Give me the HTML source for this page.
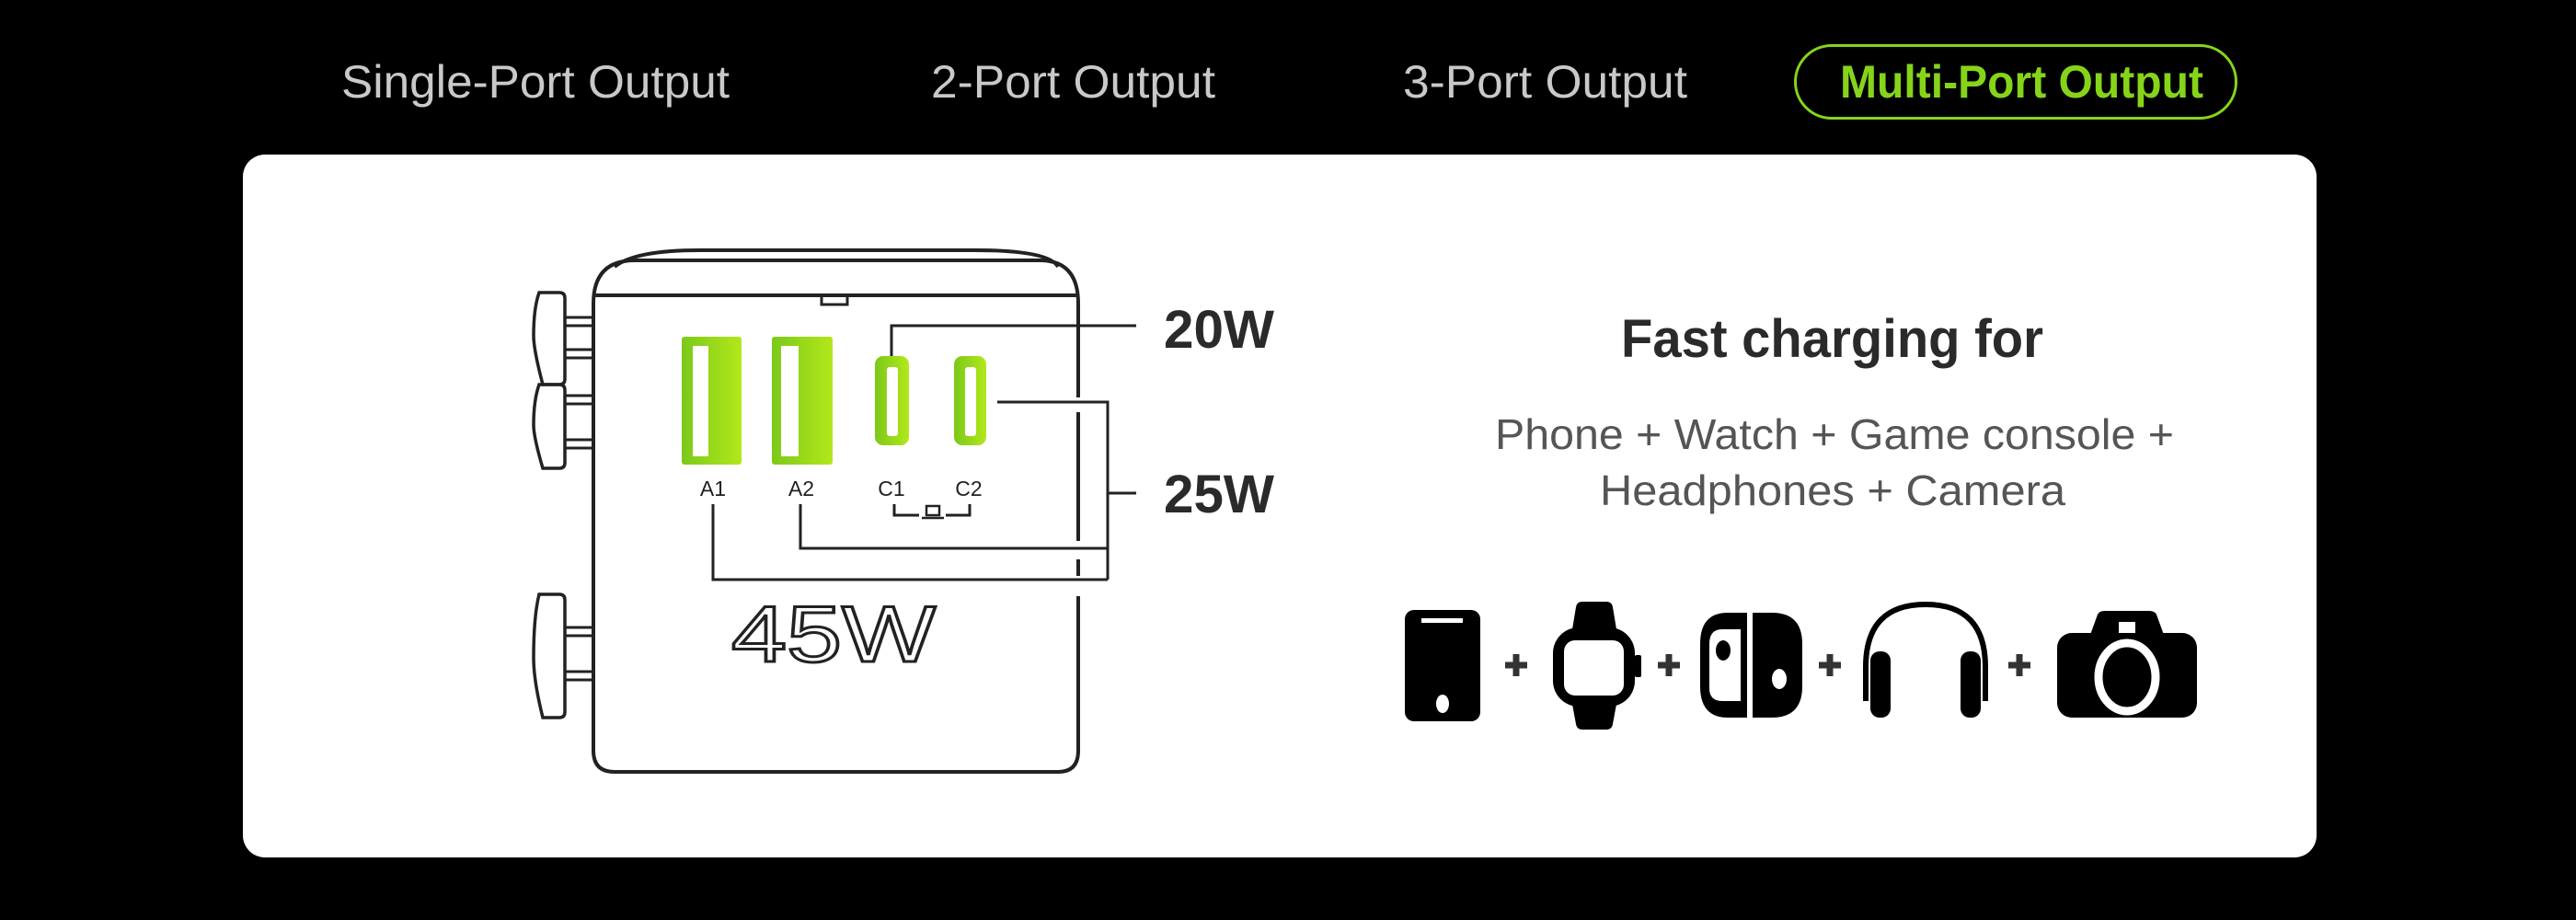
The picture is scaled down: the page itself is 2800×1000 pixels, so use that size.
<!DOCTYPE html>
<html><head><meta charset="utf-8"><style>
html,body{margin:0;padding:0;background:#000;}
svg{display:block}
</style></head><body>
<svg width="2800" height="1000" viewBox="0 0 2800 1000" xmlns="http://www.w3.org/2000/svg">
<rect width="2800" height="1000" fill="#000"/>
<g font-family="Liberation Sans, sans-serif" font-size="50" fill="#c9c9c9">
<text x="371" y="106" textLength="422" lengthAdjust="spacingAndGlyphs">Single-Port Output</text>
<text x="1012" y="106" textLength="309" lengthAdjust="spacingAndGlyphs">2-Port Output</text>
<text x="1525" y="106" textLength="309" lengthAdjust="spacingAndGlyphs">3-Port Output</text>
</g>
<rect x="1951.5" y="49.5" width="479" height="79" rx="39.5" fill="none" stroke="#86d41a" stroke-width="3"/>
<text x="2000" y="106" font-family="Liberation Sans, sans-serif" font-weight="bold" font-size="50" fill="#86d41a" textLength="395" lengthAdjust="spacingAndGlyphs">Multi-Port Output</text>
<rect x="264" y="168" width="2254" height="764" rx="24" fill="#fff"/>
<defs>
<linearGradient id="g" x1="0" x2="1" y1="0" y2="0"><stop offset="0" stop-color="#7cc81a"/><stop offset="1" stop-color="#b2e81a"/></linearGradient>
</defs>
<g stroke="#222" stroke-width="4" fill="none">
<path d="M668 290 Q690 272 760 272 L1060 272 Q1140 272 1150 290"/>
<path d="M1172 340 L1172 330 Q1172 283 1130 283 L690 283 Q645 283 645 330 L645 816 Q645 839 668 839 L1150 839 Q1172 839 1172 816 L1172 648"/>
<line x1="645" y1="321" x2="1172" y2="321"/>
<line x1="1172" y1="340" x2="1172" y2="432"/>
<line x1="1172" y1="448" x2="1172" y2="588"/>
<line x1="1172" y1="608" x2="1172" y2="626"/>
<path d="M893 321 L893 331 L921 331 L921 321" stroke-width="3"/>
<path d="M586 318 L608 318 Q614 318 614 324 L614 412 Q614 418 608 418 L590 418 Q580 380 580 365 Q580 335 586 318Z" stroke-width="3.5"/>
<path d="M586 418 L608 418 Q614 418 614 424 L614 503 Q614 509 608 509 L590 509 Q580 475 580 462 Q580 435 586 418Z" stroke-width="3.5"/>
<path d="M586 646 L608 646 Q614 646 614 652 L614 774 Q614 780 608 780 L590 780 Q580 740 580 715 Q580 670 586 646Z" stroke-width="3.5"/>
<g stroke-width="3">
<rect x="614" y="345" width="31" height="9"/><rect x="614" y="380" width="31" height="9"/>
<rect x="614" y="430" width="31" height="9"/><rect x="614" y="478" width="31" height="9"/>
<rect x="614" y="682" width="31" height="9"/><rect x="614" y="730" width="31" height="9"/>
</g>
<g stroke-width="3">
<polyline points="969,387 969,354 1235,354"/>
<polyline points="1084,437 1204,437 1204,630"/>
<line x1="1204" y1="536" x2="1235" y2="536"/>
<polyline points="870,548 870,596 1204,596"/>
<polyline points="775,548 775,630 1204,630"/>
<polyline points="972,548 972,560 999,560"/>
<polyline points="1028,560 1054,560 1054,548"/>
<rect x="1007" y="550" width="14" height="10" stroke-width="2.5"/>
<line x1="1002" y1="563" x2="1026" y2="563" stroke-width="2.5"/>
</g>
</g>
<rect x="741" y="366" width="65" height="139" rx="3" fill="url(#g)"/>
<rect x="753" y="376" width="17" height="120" fill="#fff"/>
<rect x="839" y="366" width="66" height="139" rx="3" fill="url(#g)"/>
<rect x="849" y="376" width="19" height="120" fill="#fff"/>
<rect x="951" y="387" width="37" height="97" rx="9" fill="url(#g)"/>
<rect x="964" y="399" width="12" height="75" rx="3" fill="#fff"/>
<rect x="1037" y="387" width="35" height="97" rx="9" fill="url(#g)"/>
<rect x="1049" y="399" width="12" height="75" rx="3" fill="#fff"/>
<g font-family="Liberation Sans, sans-serif" font-size="23" fill="#222" text-anchor="middle">
<text x="775" y="539">A1</text><text x="871" y="539">A2</text><text x="969" y="539">C1</text><text x="1053" y="539">C2</text>
</g>
<text x="795" y="719" font-family="Liberation Sans, sans-serif" font-size="86" fill="#fff" stroke="#222" stroke-width="3" textLength="222" lengthAdjust="spacingAndGlyphs">45W</text>
<g font-family="Liberation Sans, sans-serif" font-weight="bold" font-size="58" fill="#2a2a2a">
<text x="1265" y="378" textLength="120" lengthAdjust="spacingAndGlyphs">20W</text>
<text x="1265" y="557" textLength="120" lengthAdjust="spacingAndGlyphs">25W</text>
</g>
<text x="1762" y="388" font-family="Liberation Sans, sans-serif" font-weight="bold" font-size="58" fill="#2a2a2a" textLength="459" lengthAdjust="spacingAndGlyphs">Fast charging for</text>
<g font-family="Liberation Sans, sans-serif" font-size="46" fill="#555">
<text x="1625" y="488" textLength="738" lengthAdjust="spacingAndGlyphs">Phone + Watch + Game console +</text>
<text x="1739" y="549" textLength="506" lengthAdjust="spacingAndGlyphs">Headphones + Camera</text>
</g>
<rect x="1527" y="663" width="82" height="121" rx="10" fill="#000"/>
<rect x="1545" y="672" width="45" height="5" fill="#fff"/>
<ellipse cx="1568" cy="765" rx="7" ry="10" fill="#fff"/>
<path d="M1708 690 L1713 660 Q1714 654 1720 654 L1746 654 Q1752 654 1753 660 L1758 690Z M1708 760 L1713 787 Q1714 793 1720 793 L1746 793 Q1752 793 1753 787 L1758 760Z" fill="#000"/>
<rect x="1688" y="682" width="89" height="86" rx="28" fill="#000"/>
<rect x="1777" y="712" width="7" height="24" rx="2" fill="#000"/>
<rect x="1700" y="696" width="65" height="60" rx="12" fill="#fff"/>
<path d="M1899 666 L1878 666 Q1848 666 1848 700 L1848 746 Q1848 780 1878 780 L1899 780Z" fill="#000"/>
<path d="M1892 684 L1872 684 Q1858 684 1858 700 L1858 748 Q1858 762 1872 762 L1892 762Z" fill="#fff"/>
<ellipse cx="1873" cy="707" rx="8" ry="11" fill="#000"/>
<path d="M1905 666 L1926 666 Q1959 666 1959 700 L1959 746 Q1959 780 1926 780 L1905 780Z" fill="#000"/>
<ellipse cx="1934" cy="738" rx="8" ry="11" fill="#fff"/>
<path d="M2028 762 L2028 725 Q2028 657 2093 657 Q2158 657 2158 725 L2158 762" fill="none" stroke="#000" stroke-width="6"/>
<rect x="2033" y="708" width="22" height="72" rx="10" fill="#000"/>
<rect x="2131" y="708" width="22" height="72" rx="10" fill="#000"/>
<path d="M2272 690 L2280 668 Q2282 664 2288 664 L2336 664 Q2342 664 2344 668 L2352 690Z" fill="#000"/>
<rect x="2236" y="688" width="152" height="92" rx="16" fill="#000"/>
<rect x="2303" y="676" width="18" height="12" fill="#fff"/>
<ellipse cx="2312" cy="736" rx="31" ry="37" fill="#000" stroke="#fff" stroke-width="9"/>
<g stroke="#333" stroke-width="7">
<path d="M1636 723 H1660 M1648 711 V735"/>
<path d="M1802 723 H1826 M1814 711 V735"/>
<path d="M1977 723 H2001 M1989 711 V735"/>
<path d="M2183 723 H2207 M2195 711 V735"/>
</g>
</svg>
</body></html>
